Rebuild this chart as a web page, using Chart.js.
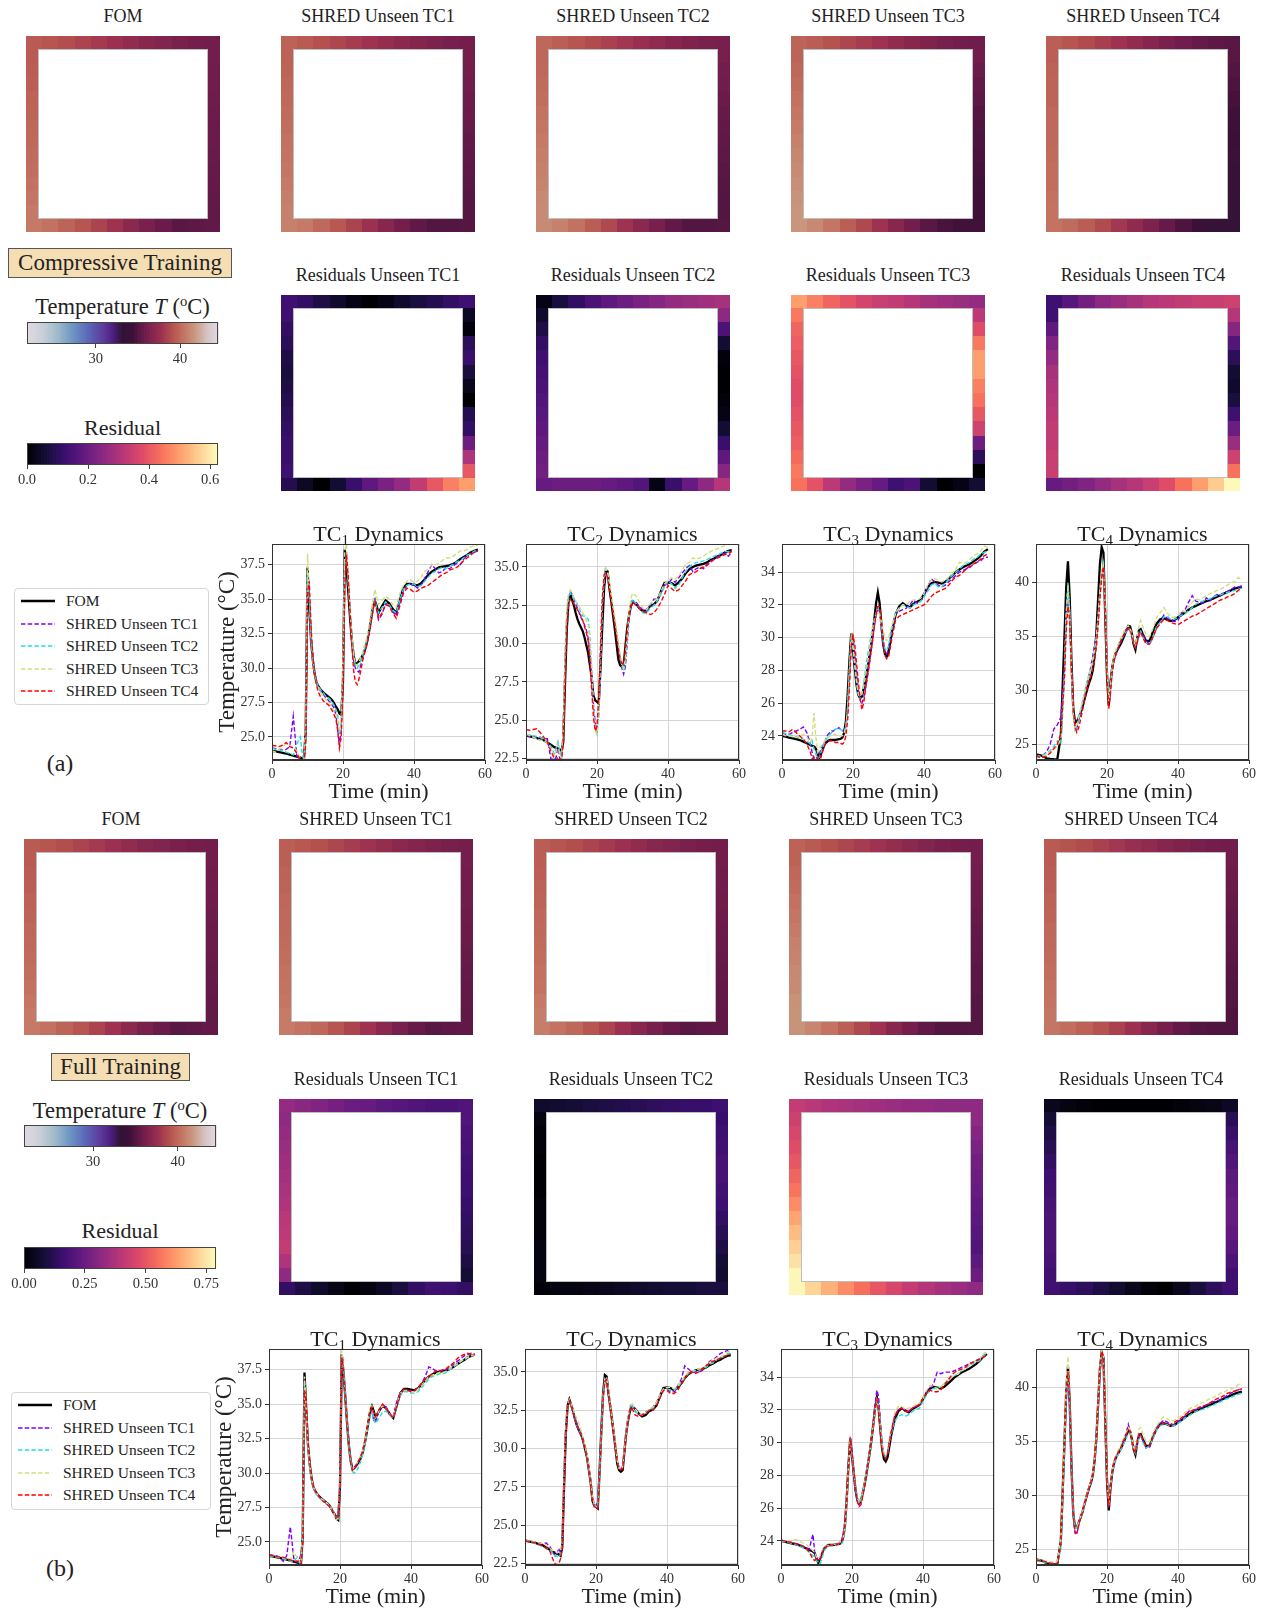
<!DOCTYPE html>
<html>
<head>
<meta charset="utf-8">
<script src="https://cdn.jsdelivr.net/npm/chart.js@4.4.1/dist/chart.umd.min.js"></script>
<style>
html,body{margin:0;padding:0;background:#fff;}
body{width:1271px;height:1612px;position:relative;overflow:hidden;font-family:"Liberation Serif","DejaVu Serif",serif;color:#222;}
canvas.abs{position:absolute;display:block;}
.txt{position:absolute;white-space:nowrap;line-height:1;transform:translate(-50%,-50%);}
.tag{position:absolute;background:#f5deb3;border:1px solid #555;box-sizing:border-box;display:flex;align-items:center;justify-content:center;font-size:23px;white-space:nowrap;}
.legend{position:absolute;border:1px solid #d6d6d6;border-radius:4px;background:#fff;box-sizing:border-box;}
.legend .lab{position:absolute;font-size:15.5px;line-height:1;transform:translateY(-50%);white-space:nowrap;color:#222;}
.legend svg{position:absolute;overflow:visible;}
sup{font-size:0.65em;vertical-align:0.55em;line-height:0;}
</style>
</head>
<body>
<script>
const FONT = '"Liberation Serif", "DejaVu Serif", serif';

// ---------- time grid (minutes) shared by every dynamics plot ----------
const TIME = [
  0,1,2,3,4,5,6,7,8,
  8.5,9,9.5,10,10.5,11,11.5,12,
  12.5,13,13.5,14,14.5,15,15.5,16,
  16.5,17,17.5,18,18.5,19,19.5,20,
  20.5,21,21.5,22,22.5,23,23.5,24,
  24.5,25,25.5,26,26.5,27,27.5,28,
  28.5,29,29.5,30,
  31,32,33,34,35,36,37,38,
  39,40,41,42,43,44,45,46,
  47,48,49,50,51,52,53,54,
  55,56,57,58];

const SERIES_LABELS = ['FOM','SHRED Unseen TC1','SHRED Unseen TC2','SHRED Unseen TC3','SHRED Unseen TC4'];
const SERIES_COLORS = ['#000000','#8000ff','#2adddd','#d4dd80','#ff0000'];

// ---------- full-order model thermocouple traces ----------
const FOM_TC1 = [
  24.0,23.95,23.9,23.85,23.8,23.72,23.65,23.58,23.5,
  23.45,23.4,25.5,37.3,34.5,32.0,30.6,29.6,
  29.0,28.7,28.5,28.35,28.22,28.1,28.0,27.9,
  27.78,27.65,27.45,27.2,27.0,26.7,26.6,29.0,
  38.6,37.3,35.5,33.6,32.0,30.9,30.3,30.35,
  30.5,30.7,30.9,31.2,31.6,32.2,32.9,33.7,
  34.5,34.85,34.5,34.0,
  34.5,34.9,34.7,34.3,34.0,34.9,35.8,36.1,
  36.1,36.05,36.0,36.15,36.45,36.75,37.0,37.15,
  37.3,37.35,37.4,37.45,37.55,37.7,37.9,38.05,
  38.2,38.4,38.5,38.6];
const FOM_TC2 = [
  24.0,23.95,23.9,23.85,23.75,23.7,23.55,23.4,23.25,
  23.2,23.15,23.1,23.0,23.6,27.5,31.0,32.8,
  33.2,32.85,32.5,32.0,31.6,31.3,31.05,30.8,
  30.4,29.9,29.4,28.6,27.8,26.6,26.3,26.2,
  26.1,28.5,31.2,33.6,34.8,34.7,33.6,32.8,
  31.9,31.0,30.0,29.0,28.6,28.5,28.6,29.8,
  31.0,31.8,32.4,32.75,
  32.6,32.3,32.1,32.2,32.45,32.55,32.8,33.4,
  33.95,34.0,33.95,33.8,34.0,34.25,34.6,34.85,
  35.0,35.1,35.15,35.2,35.3,35.45,35.55,35.7,
  35.8,35.95,36.05,36.1];
const FOM_TC3 = [
  24.0,23.95,23.9,23.85,23.8,23.75,23.65,23.55,23.45,
  23.4,23.35,23.25,22.95,22.65,22.9,23.2,23.5,
  23.6,23.7,23.75,23.75,23.75,23.76,23.78,23.8,
  23.82,23.9,24.2,24.9,26.5,28.6,30.25,29.2,
  28.1,27.1,26.5,26.3,26.4,26.9,27.4,28.0,
  28.7,29.4,30.2,31.1,32.1,32.75,32.1,30.8,
  29.6,29.0,28.85,29.1,
  30.4,31.4,31.9,32.1,31.95,31.85,32.05,32.17,
  32.3,32.65,33.05,33.3,33.4,33.35,33.3,33.4,
  33.6,33.8,34.0,34.15,34.3,34.4,34.5,34.65,
  34.8,35.0,35.25,35.4];
const FOM_TC4 = [
  24.05,24.0,23.9,23.7,23.65,23.62,23.6,25.8,34.8,
  39.5,42.0,38.6,32.6,28.3,27.0,27.1,27.45,
  27.9,28.35,29.0,29.6,30.2,30.75,31.2,31.9,
  33.2,35.3,38.5,41.7,43.3,42.8,37.0,31.4,
  28.6,30.8,32.2,33.0,33.5,33.8,34.1,34.4,
  34.8,35.2,35.6,36.0,35.95,35.3,34.3,33.8,
  34.85,35.6,35.7,35.3,
  34.6,34.6,35.5,36.2,36.6,36.7,36.6,36.45,
  36.55,36.8,37.0,37.25,37.5,37.7,37.85,38.0,
  38.15,38.3,38.4,38.55,38.7,38.85,39.0,39.15,
  39.3,39.45,39.55,39.65];

// ---------- SHRED reconstructions, compressive training ----------
const CT1_U1 = [
  24.2,24.15,24.1,24.05,24.1,24.3,26.5,23.6,23.2,
  23.2,23.3,25.0,36.8,35.2,32.3,30.7,29.6,
  29.0,28.6,28.4,28.3,28.1,27.9,27.8,27.6,
  27.5,27.3,27.1,26.6,25.6,24.4,25.5,30.0,
  37.0,38.4,36.3,34.0,32.0,30.5,30.0,29.8,
  29.7,30.2,30.7,31.2,31.6,32.2,32.9,33.8,
  34.6,35.0,34.3,33.5,
  33.9,34.7,34.6,34.1,33.8,34.8,35.6,36.0,
  36.1,36.0,35.8,36.0,36.5,37.0,37.5,37.2,
  36.9,37.0,37.3,37.2,37.4,37.6,37.5,37.9,
  38.2,38.3,38.4,38.5];
const CT1_U2 = [
  24.2,24.1,24.05,24.0,23.9,23.8,23.7,24.5,25.0,
  23.8,23.3,25.0,36.9,35.0,32.2,30.7,29.7,
  29.0,28.7,28.5,28.3,28.2,28.0,27.9,27.8,
  27.7,27.5,27.3,27.0,26.6,25.2,25.8,29.5,
  37.8,38.0,36.0,34.0,32.2,30.8,30.2,30.0,
  30.2,30.5,30.8,31.3,31.7,32.3,33.0,33.8,
  34.5,34.9,34.4,34.0,
  34.4,34.8,34.6,34.2,34.0,34.9,35.7,36.0,
  36.1,36.1,35.9,36.0,36.3,36.6,36.9,37.0,
  37.2,37.3,37.2,37.4,37.5,37.7,37.8,38.0,
  38.2,38.3,38.5,38.5];
const CT1_U3 = [
  24.0,23.9,24.1,24.3,24.5,24.4,24.2,24.0,23.4,
  23.3,23.4,26.0,38.3,35.4,32.2,30.5,29.5,
  28.9,28.6,28.3,28.1,27.9,27.8,27.6,27.5,
  27.3,27.1,26.9,26.6,26.2,25.6,26.5,31.0,
  38.6,39.0,36.4,34.2,32.3,30.9,30.3,30.2,
  30.4,30.8,31.1,31.6,32.0,32.6,33.3,34.2,
  35.0,35.7,35.2,34.6,
  34.9,35.2,35.0,34.6,34.4,35.4,36.0,36.3,
  36.4,36.2,36.3,36.6,37.0,37.2,37.5,37.5,
  37.6,37.8,38.0,38.0,38.1,38.3,38.5,38.5,
  38.6,38.8,38.9,38.9];
const CT1_U4 = [
  24.4,24.35,24.3,24.4,24.6,24.3,24.2,23.8,23.3,
  23.2,23.3,24.5,35.5,36.3,33.0,30.8,29.6,
  28.8,28.3,28.0,27.8,27.6,27.5,27.4,27.3,
  27.1,26.9,26.6,26.3,25.5,24.2,25.0,28.5,
  36.0,38.2,36.5,34.0,31.6,29.8,29.0,28.8,
  29.2,29.8,30.5,31.0,31.5,32.0,32.7,33.5,
  34.3,34.8,34.2,33.6,
  34.0,34.6,34.5,34.0,33.6,34.5,35.4,35.8,
  35.7,35.5,35.6,35.8,35.9,36.0,36.2,36.4,
  36.6,36.8,36.9,37.1,37.2,37.3,37.5,37.8,
  38.0,38.2,38.4,38.5];

const CT2_U1 = [
  24.0,23.95,23.9,23.85,23.9,23.8,23.8,22.5,22.4,
  22.6,23.4,22.5,22.4,24.5,29.0,32.0,33.0,
  33.4,33.2,32.9,32.6,32.3,32.0,31.7,31.5,
  31.2,30.9,30.4,29.5,28.0,26.0,24.8,24.4,
  25.5,29.0,32.3,34.0,34.7,34.5,33.8,33.0,
  32.3,31.5,30.6,29.8,29.0,28.4,28.0,28.5,
  30.0,31.5,32.5,32.8,
  32.7,32.4,32.2,32.1,32.5,32.9,32.9,33.3,
  33.8,33.9,34.2,34.0,34.3,34.6,34.9,35.1,
  34.7,34.9,35.0,34.9,35.2,35.4,35.5,35.7,
  35.8,35.9,35.7,36.0];
const CT2_U2 = [
  24.1,24.05,24.0,23.95,23.9,23.8,23.6,23.3,22.8,
  23.2,23.6,23.0,22.6,24.0,28.5,31.8,33.0,
  33.3,33.1,32.9,32.8,32.5,32.3,32.0,31.8,
  31.8,31.7,31.6,30.5,28.5,26.0,24.5,24.1,
  25.2,28.8,32.5,34.2,34.9,34.6,33.8,33.0,
  32.3,31.6,30.8,30.0,29.2,28.6,28.2,28.8,
  30.2,31.6,32.5,32.9,
  32.6,32.3,32.0,32.0,32.3,32.5,32.8,33.2,
  33.7,34.1,33.9,33.6,33.8,34.3,34.7,35.0,
  35.2,35.3,35.3,35.4,35.5,35.6,35.7,35.8,
  35.9,36.0,36.0,36.1];
const CT2_U3 = [
  24.1,24.0,23.9,23.8,23.7,23.7,23.5,23.1,22.7,
  23.0,23.4,22.8,22.6,24.5,29.5,32.5,33.3,
  33.5,33.3,33.0,32.8,32.6,32.4,32.2,32.0,
  31.8,31.5,31.2,30.2,28.2,25.8,24.3,24.1,
  25.5,29.5,32.8,34.3,34.9,34.7,34.0,33.2,
  32.5,31.8,31.0,30.1,29.3,28.8,28.4,29.2,
  30.6,32.0,32.9,33.3,
  33.1,32.7,32.3,32.2,32.6,32.8,32.9,33.4,
  33.9,34.1,34.3,34.2,34.4,34.8,35.2,35.3,
  35.6,35.5,35.6,35.7,35.9,36.0,36.1,36.2,
  36.3,36.4,36.5,36.6];
const CT2_U4 = [
  24.4,24.35,24.4,24.45,24.2,23.9,23.6,23.0,22.5,
  22.4,22.6,22.5,22.4,23.5,27.5,31.0,32.6,
  32.9,32.8,32.6,32.4,32.2,32.0,31.8,31.5,
  31.1,30.7,30.2,29.0,27.0,25.2,24.3,24.6,
  26.5,30.0,33.0,34.5,34.6,34.3,33.6,32.8,
  32.0,31.3,30.5,29.7,29.0,28.7,28.7,29.6,
  30.8,31.8,32.4,32.7,
  32.5,32.3,32.1,32.0,31.9,32.0,32.3,32.7,
  33.2,33.8,33.6,33.4,33.5,33.8,34.1,34.5,
  34.6,34.7,34.9,35.0,35.1,35.3,35.5,35.6,
  35.7,35.8,35.9,36.0];

const CT3_U1 = [
  24.2,24.1,24.1,24.2,24.3,24.4,24.55,24.2,23.5,
  23.0,22.6,22.7,22.6,22.9,23.2,23.4,23.6,
  23.9,24.1,24.2,24.3,24.3,24.4,24.4,24.5,
  24.4,24.3,24.4,24.6,25.5,27.5,29.6,30.0,
  29.0,27.8,26.8,26.2,26.0,26.3,26.9,27.5,
  28.2,29.0,29.8,30.7,31.3,31.7,31.6,30.5,
  29.5,29.1,29.0,29.3,
  30.5,31.5,31.6,31.7,31.8,32.0,32.3,32.1,
  32.2,32.5,33.0,33.6,33.4,33.2,33.1,33.2,
  33.4,33.6,33.8,34.0,34.1,34.2,34.3,34.5,
  34.6,34.7,34.9,34.9];
const CT3_U2 = [
  24.2,24.15,24.1,24.0,23.95,23.9,23.8,23.7,23.5,
  23.7,23.2,22.9,22.6,22.7,23.0,23.3,23.6,
  23.8,24.0,24.1,24.2,24.3,24.4,24.45,24.5,
  24.4,24.3,24.3,24.5,25.8,28.0,30.0,29.3,
  28.2,27.2,26.5,26.2,26.5,27.2,28.0,28.8,
  29.4,30.0,30.6,31.1,31.5,31.8,31.5,30.6,
  29.8,29.3,29.2,29.5,
  30.6,31.5,31.8,32.0,31.9,31.8,32.0,32.1,
  32.2,32.5,32.8,33.2,33.3,33.1,33.1,33.3,
  33.6,33.8,34.0,34.2,34.4,34.5,34.6,34.8,
  34.9,35.1,35.2,35.3];
const CT3_U3 = [
  24.1,24.0,24.0,23.95,23.9,24.0,24.1,23.9,23.6,
  24.0,25.4,24.0,23.0,23.2,23.4,23.5,23.7,
  23.8,23.9,24.0,24.0,24.1,24.1,24.0,24.0,
  24.0,24.0,24.2,24.5,25.8,28.2,30.1,29.5,
  28.4,27.4,26.6,26.4,26.6,27.0,27.6,28.3,
  29.0,29.7,30.4,31.0,31.4,31.6,31.4,31.0,
  30.4,30.0,29.8,30.0,
  30.8,31.5,31.8,32.0,32.0,32.2,32.3,32.3,
  32.4,32.7,33.2,33.5,33.6,33.5,33.4,33.5,
  33.7,33.9,34.2,34.6,34.5,34.6,34.8,35.0,
  35.1,35.3,35.6,35.5];
const CT3_U4 = [
  24.3,24.3,24.25,24.4,24.2,24.0,23.8,23.5,23.0,
  22.6,22.7,22.5,22.6,22.8,22.7,23.1,23.4,
  23.6,23.7,23.7,23.7,23.7,23.6,23.6,23.6,
  23.55,23.5,23.6,24.0,25.0,27.0,29.5,30.1,
  29.6,28.4,27.3,26.3,25.6,26.0,26.8,27.6,
  28.3,29.0,29.8,30.7,31.4,31.9,31.9,31.0,
  29.8,28.9,28.7,28.8,
  30.0,31.1,31.3,31.4,31.5,31.6,31.7,31.8,
  31.9,32.0,32.2,32.5,32.7,32.8,32.9,33.0,
  33.2,33.5,33.7,33.8,34.0,34.2,34.4,34.5,
  34.6,34.8,35.0,35.1];

const CT4_U1 = [
  23.9,23.9,24.0,24.3,25.0,26.4,26.8,27.5,32.0,
  36.5,38.5,37.0,32.0,28.0,26.3,26.5,27.2,
  27.8,28.5,29.3,30.1,30.9,31.5,32.3,33.2,
  34.3,34.9,36.5,39.0,40.5,41.2,38.0,32.0,
  29.2,30.5,32.0,32.8,33.3,33.8,34.2,34.6,
  35.0,35.4,35.7,35.8,35.6,35.0,34.4,34.0,
  34.5,35.1,35.5,35.3,
  34.6,34.3,35.0,35.8,36.4,37.0,36.7,36.5,
  36.4,36.5,37.2,37.5,38.2,38.8,38.3,38.2,
  38.1,38.6,38.3,38.7,38.9,38.8,39.1,39.2,
  39.4,39.6,39.6,39.7];
const CT4_U2 = [
  23.8,23.8,24.0,24.2,24.4,24.8,25.3,25.0,31.0,
  37.0,40.0,37.5,32.0,28.0,26.3,26.6,27.3,
  28.0,28.8,29.5,30.3,31.0,31.5,32.0,32.6,
  33.4,34.4,36.5,39.2,41.0,41.8,37.5,32.0,
  29.5,30.5,32.0,33.0,33.6,34.0,34.4,34.7,
  35.0,35.3,35.5,35.6,35.5,35.0,34.4,34.0,
  34.4,35.2,35.5,35.0,
  34.4,34.2,35.0,36.0,36.3,36.8,36.9,36.6,
  36.6,36.8,37.0,37.1,37.4,37.7,38.0,38.2,
  38.3,38.4,38.5,38.7,38.8,38.9,39.0,39.1,
  39.2,39.3,39.4,39.5];
const CT4_U3 = [
  24.0,23.9,23.9,24.1,24.3,24.5,24.8,25.5,31.5,
  37.0,39.8,37.0,31.5,27.8,26.4,26.8,27.5,
  28.2,28.9,29.5,30.2,31.0,31.6,32.2,32.9,
  33.8,35.0,37.0,39.4,41.0,41.6,37.8,32.0,
  29.0,30.6,32.3,33.2,33.8,34.2,34.6,35.0,
  35.3,35.6,35.9,36.0,35.8,35.3,34.6,34.2,
  35.0,36.0,36.5,36.0,
  35.2,35.0,35.8,36.8,37.2,37.7,37.2,36.8,
  36.8,37.0,37.4,37.3,37.8,38.2,38.5,38.4,
  38.6,38.8,39.0,39.1,39.3,39.4,39.6,39.8,
  40.0,40.1,40.5,40.3];
const CT4_U4 = [
  24.0,23.8,23.8,23.9,24.2,24.6,25.0,26.0,31.0,
  35.5,37.8,36.5,32.0,28.5,26.6,26.1,26.5,
  27.2,28.0,28.8,29.6,30.3,30.9,31.4,32.0,
  32.8,34.0,36.0,38.5,40.5,41.5,37.5,31.0,
  28.3,29.8,31.8,32.8,33.4,33.8,34.3,34.7,
  35.0,35.3,35.6,35.7,35.6,35.2,34.5,34.0,
  34.4,35.1,35.4,35.0,
  34.3,34.3,35.0,35.8,36.2,36.6,36.5,36.3,
  36.2,36.1,36.3,36.5,36.7,36.9,37.0,37.2,
  37.4,37.6,37.8,38.0,38.2,38.4,38.5,38.7,
  38.8,39.0,39.3,39.5];

// ---------- SHRED reconstructions, full training ----------
const FT1_U1 = [
  24.1,24.05,24.0,23.9,23.6,24.0,26.1,23.8,23.5,
  23.7,24.1,25.0,36.8,34.6,32.0,30.6,29.6,
  29.0,28.7,28.5,28.35,28.2,28.1,27.95,27.85,
  27.7,27.6,27.4,27.2,27.0,26.9,27.0,29.5,
  38.3,37.5,35.5,33.6,32.0,30.9,30.3,30.4,
  30.6,30.8,31.0,31.3,31.7,32.3,33.0,33.8,
  34.5,34.5,33.8,33.7,
  34.5,34.9,34.8,34.2,34.1,35.2,35.8,36.0,
  36.0,36.0,36.0,36.2,36.5,37.0,37.7,37.6,
  37.4,37.4,37.4,37.5,37.7,37.9,38.1,38.3,
  38.5,38.6,38.7,38.6];
const FT1_U2 = [
  24.0,23.95,23.9,23.85,23.8,23.7,23.6,23.6,23.9,
  23.5,23.4,25.3,36.5,34.3,31.8,30.4,29.5,
  28.9,28.6,28.4,28.25,28.1,28.0,27.9,27.85,
  27.7,27.6,27.5,27.3,27.0,26.8,26.7,29.0,
  38.0,37.6,35.6,33.7,32.0,30.8,30.1,30.0,
  30.1,30.3,30.6,31.0,31.5,32.0,32.7,33.5,
  34.2,34.4,33.9,33.6,
  34.0,34.4,34.5,34.2,34.0,34.8,35.6,35.9,
  35.9,35.8,35.8,35.9,36.2,36.5,36.8,37.0,
  37.1,37.2,37.2,37.3,37.5,37.7,37.9,38.1,
  38.2,38.4,38.5,38.6];
const FT1_U3 = [
  24.1,24.0,23.95,23.9,23.85,23.8,23.7,24.3,23.8,
  23.6,23.5,26.0,37.0,34.6,32.0,30.5,29.6,
  29.0,28.7,28.5,28.3,28.2,28.1,28.0,27.9,
  27.8,27.6,27.4,27.2,26.9,26.6,26.8,30.0,
  38.9,37.6,35.5,33.6,32.0,30.9,30.3,30.4,
  30.6,30.8,31.1,31.4,31.8,32.4,33.1,34.0,
  34.8,34.9,34.3,34.0,
  34.5,34.9,34.7,34.3,34.1,35.0,35.8,36.0,
  36.0,35.9,35.9,36.1,36.4,36.7,37.0,37.1,
  37.2,37.3,37.3,37.4,37.6,37.8,37.9,38.1,
  38.3,38.4,38.5,38.6];
const FT1_U4 = [
  24.1,24.0,23.95,23.9,23.9,23.8,23.7,23.6,23.6,
  23.6,23.4,24.8,36.0,35.0,32.2,30.7,29.7,
  29.0,28.7,28.5,28.3,28.2,28.0,27.9,27.85,
  27.7,27.6,27.4,27.2,27.0,26.8,26.8,29.0,
  38.4,37.4,35.5,33.6,32.0,30.8,30.2,30.3,
  30.5,30.8,31.0,31.3,31.7,32.3,33.0,33.8,
  34.5,34.8,34.4,34.1,
  34.6,35.0,34.7,34.3,34.0,34.9,35.8,36.1,
  36.0,35.9,36.0,36.2,36.5,36.8,37.0,37.2,
  37.4,37.4,37.5,37.6,37.8,38.0,38.3,38.5,
  38.6,38.7,38.6,38.6];

const FT2_U1 = [
  24.05,24.0,23.95,23.9,23.85,23.8,23.85,23.6,23.2,
  23.0,23.1,23.5,23.2,23.8,27.6,31.0,32.8,
  33.2,32.9,32.5,32.1,31.7,31.4,31.1,30.9,
  30.5,30.1,29.6,28.9,27.9,26.8,26.4,26.3,
  26.5,28.6,31.2,33.5,34.5,34.6,33.7,32.8,
  31.9,31.0,30.1,29.2,28.8,28.7,28.8,29.8,
  30.8,31.8,32.5,32.9,
  32.6,32.2,32.2,32.4,32.5,32.7,33.0,33.5,
  33.9,33.9,33.7,33.7,34.1,34.5,35.4,35.2,
  35.0,35.0,35.0,35.1,35.4,35.7,35.8,36.0,
  36.2,36.3,36.4,36.2];
const FT2_U2 = [
  24.0,23.95,23.9,23.8,23.7,23.6,23.5,23.4,23.1,
  23.0,23.0,22.9,23.1,23.8,27.8,31.2,32.9,
  33.1,32.8,32.4,32.0,31.6,31.3,31.0,30.8,
  30.4,29.9,29.4,28.6,27.7,26.6,26.3,26.3,
  26.3,28.3,31.0,33.4,34.5,34.6,33.7,32.8,
  31.9,31.0,30.1,29.2,28.8,28.8,28.9,29.9,
  30.9,31.8,32.5,32.8,
  32.4,32.3,32.2,32.4,32.5,32.6,32.9,33.4,
  33.8,33.9,33.8,33.8,34.0,34.3,34.6,34.9,
  35.0,35.1,35.1,35.2,35.3,35.5,35.6,35.8,
  35.9,36.0,36.2,36.2];
const FT2_U3 = [
  24.05,24.0,23.95,23.9,23.85,23.8,23.7,23.5,23.3,
  23.3,23.2,23.3,23.4,24.0,28.0,31.3,32.9,
  33.2,32.9,32.6,32.3,32.0,31.8,31.4,31.0,
  30.6,30.1,29.6,28.8,27.9,26.8,26.4,26.2,
  26.2,28.4,31.1,33.5,34.6,34.6,33.8,32.9,
  32.0,31.1,30.2,29.2,28.7,28.7,28.8,29.9,
  31.0,32.0,32.8,33.0,
  32.6,32.3,32.2,32.3,32.6,32.7,33.0,33.5,
  33.9,34.0,34.0,33.9,34.1,34.4,34.7,35.0,
  35.1,35.1,35.2,35.3,35.4,35.6,35.8,35.9,
  36.0,36.1,36.3,36.3];
const FT2_U4 = [
  24.0,23.95,23.9,23.85,23.75,23.65,23.5,23.3,22.7,
  22.5,22.4,22.5,22.8,23.6,27.5,30.9,32.7,
  33.1,32.8,32.4,32.0,31.6,31.3,31.0,30.8,
  30.4,29.9,29.4,28.6,27.7,26.6,26.2,26.2,
  26.1,28.2,30.9,33.3,34.4,34.5,33.6,32.7,
  31.8,30.9,30.0,29.1,28.7,28.6,28.7,29.8,
  30.8,31.8,32.5,32.7,
  32.2,32.1,32.2,32.3,32.5,32.5,32.8,33.3,
  33.8,33.8,33.6,33.6,33.8,34.2,34.6,34.9,
  35.0,34.9,35.0,35.2,35.4,35.6,35.7,35.8,
  35.9,36.0,36.1,36.1];

const FT3_U1 = [
  24.05,24.0,23.95,23.9,23.85,23.8,23.7,23.6,23.5,
  24.0,24.4,23.3,23.0,22.8,22.9,23.2,23.5,
  23.6,23.7,23.7,23.75,23.75,23.8,23.8,23.85,
  23.9,24.0,24.4,25.2,26.8,28.8,30.3,29.3,
  28.1,27.0,26.4,26.2,26.4,26.9,27.4,28.0,
  28.7,29.5,30.3,31.2,32.3,33.2,32.8,31.2,
  29.8,29.2,29.1,29.4,
  30.6,31.6,32.0,32.1,32.0,31.9,32.1,32.2,
  32.3,32.7,33.1,33.3,33.6,34.3,34.2,34.3,
  34.3,34.3,34.4,34.5,34.6,34.7,34.8,34.9,
  35.0,35.1,35.3,35.4];
const FT3_U2 = [
  24.0,23.95,23.9,23.85,23.8,23.7,23.6,23.5,23.3,
  23.2,23.1,23.0,22.8,22.7,22.6,22.9,23.3,
  23.5,23.6,23.7,23.7,23.75,23.75,23.75,23.8,
  23.8,23.8,24.0,24.6,26.3,28.4,30.0,29.3,
  28.2,27.2,26.6,26.4,26.6,27.0,27.5,28.1,
  28.8,29.5,30.3,31.2,32.0,32.6,32.2,31.0,
  29.9,29.3,29.1,29.3,
  30.5,31.3,31.6,31.7,31.6,31.7,31.9,32.0,
  32.1,32.5,32.9,33.2,33.3,33.3,33.4,33.6,
  33.8,34.0,34.1,34.2,34.4,34.5,34.7,34.8,
  34.9,35.0,35.3,35.4];
const FT3_U3 = [
  24.05,24.0,23.95,24.0,24.1,24.0,23.9,23.8,23.6,
  23.5,23.4,23.3,23.0,22.9,23.1,23.4,23.6,
  23.7,23.7,23.75,23.8,23.8,23.8,23.8,23.85,
  23.9,24.0,24.2,24.9,26.5,28.6,30.2,29.3,
  28.2,27.2,26.6,26.3,26.4,26.9,27.4,28.0,
  28.7,29.4,30.2,31.1,32.0,32.6,32.1,30.9,
  29.8,29.3,29.2,29.5,
  30.8,31.8,32.2,32.2,32.0,32.1,32.2,32.3,
  32.4,32.7,33.2,33.5,33.4,33.3,33.4,33.6,
  33.8,34.0,34.1,34.2,34.4,34.5,34.7,34.9,
  35.0,35.1,35.4,35.6];
const FT3_U4 = [
  24.05,24.0,23.95,23.9,23.85,23.75,23.7,23.6,23.3,
  23.1,22.9,22.8,22.9,22.8,22.9,23.2,23.5,
  23.6,23.7,23.7,23.75,23.75,23.8,23.8,23.8,
  23.85,23.9,24.2,24.9,26.5,28.5,30.1,29.4,
  28.3,27.2,26.4,26.1,26.2,26.7,27.3,28.0,
  28.7,29.5,30.3,31.2,32.1,32.6,32.0,30.6,
  29.5,29.1,29.0,29.3,
  30.6,31.6,32.0,32.1,31.9,31.9,32.1,32.2,
  32.3,32.7,33.0,33.2,33.1,33.1,33.2,33.5,
  33.8,34.1,34.3,34.4,34.5,34.6,34.8,34.9,
  35.0,35.1,35.2,35.35];

const FT4_U1 = [
  24.0,23.95,23.9,23.8,23.7,23.65,23.7,25.5,34.0,
  39.0,41.0,38.5,32.5,28.3,26.5,26.4,27.2,
  27.9,28.4,29.0,29.6,30.2,30.8,31.3,32.0,
  33.3,35.5,38.6,41.6,43.2,42.6,37.0,31.5,
  28.9,30.9,32.3,33.2,33.6,33.8,34.1,34.5,
  35.0,35.4,35.9,36.6,36.0,35.0,34.2,34.0,
  35.0,35.7,35.6,35.2,
  34.4,34.5,35.5,36.3,36.7,37.0,36.8,36.6,
  36.6,36.8,37.1,37.4,37.8,37.9,38.0,38.1,
  38.2,38.4,38.6,38.7,38.8,38.9,39.1,39.3,
  39.5,39.7,39.8,39.9];
const FT4_U2 = [
  23.9,23.85,23.8,23.75,23.7,23.75,23.8,25.0,33.5,
  38.8,41.5,38.5,32.5,28.5,27.0,27.0,27.4,
  27.9,28.3,28.9,29.6,30.2,30.8,31.2,31.9,
  33.1,35.2,38.4,41.5,43.0,42.6,37.2,31.8,
  29.8,30.9,32.1,32.9,33.4,33.7,34.0,34.3,
  34.6,35.0,35.4,35.8,35.8,35.1,34.2,33.9,
  34.6,35.4,35.5,35.0,
  34.4,34.6,35.3,36.1,36.5,36.6,36.6,36.4,
  36.5,36.7,36.9,37.2,37.4,37.6,37.8,37.9,
  38.0,38.1,38.3,38.4,38.6,38.7,38.9,39.0,
  39.1,39.3,39.4,39.5];
const FT4_U3 = [
  24.0,24.0,23.95,23.9,23.85,23.8,23.9,26.0,35.5,
  40.5,42.9,39.0,32.8,28.3,26.9,27.1,27.5,
  28.0,28.5,29.1,29.7,30.3,30.9,31.4,32.1,
  33.4,35.5,38.8,42.0,43.4,42.9,37.3,31.7,
  29.0,31.0,32.5,33.3,33.7,34.1,34.4,34.8,
  35.2,35.5,35.9,36.3,36.2,35.5,34.5,34.1,
  35.2,36.2,36.3,35.8,
  35.0,35.0,35.8,36.5,37.0,37.3,37.1,36.9,
  37.0,37.2,37.4,37.7,38.0,38.2,38.3,38.5,
  38.6,38.8,39.0,39.1,39.3,39.5,39.6,39.8,
  39.9,40.0,40.3,40.5];
const FT4_U4 = [
  24.0,23.95,23.9,23.8,23.7,23.65,23.6,25.5,34.8,
  39.8,41.5,39.0,33.0,28.3,26.6,26.5,27.2,
  27.9,28.4,29.0,29.6,30.2,30.8,31.3,32.0,
  33.3,35.4,38.6,41.8,43.4,42.8,37.3,31.5,
  29.0,31.0,32.3,33.1,33.6,33.9,34.2,34.5,
  34.9,35.3,35.7,36.1,36.0,35.2,34.3,34.0,
  35.0,35.7,35.7,35.2,
  34.6,34.6,35.5,36.2,36.6,36.7,36.6,36.6,
  36.8,37.0,37.2,37.5,37.7,37.9,38.0,38.2,
  38.3,38.4,38.6,38.8,39.0,39.1,39.3,39.5,
  39.6,39.7,39.8,39.9];

// ---------- axis ranges and tick labels ----------
const Y_RANGE_TC1 = [23.33, 39.0], Y_TICKS_TC1 = [25.0, 27.5, 30.0, 32.5, 35.0, 37.5];
const Y_RANGE_TC2 = [22.41, 36.5], Y_TICKS_TC2 = [22.5, 25.0, 27.5, 30.0, 32.5, 35.0];
const Y_RANGE_TC3 = [22.53, 35.71], Y_TICKS_TC3 = [24, 26, 28, 30, 32, 34];
const Y_RANGE_TC4 = [23.54, 43.6], Y_TICKS_TC4 = [25, 30, 35, 40];
const X_TICKS = [0, 20, 40, 60];

// ---------- boundary temperature fields (°C), 12 cells per edge ----------
// edges: top (left→right), right (top→bottom), bottom (left→right), left (top→bottom)
const FIELD_FOM = {
  top:[39.4,39.2,38.9,38.5,38.1,37.7,37.3,36.9,36.6,36.3,36.1,36.0],
  right:[36.0,35.95,35.9,35.85,35.8,35.75,35.7,35.65,35.6,35.55,35.5,35.45],
  bottom:[40.6,40.3,39.8,39.2,38.5,37.8,37.0,36.3,35.7,35.2,35.3,35.5],
  left:[39.4,39.5,39.6,39.7,39.8,39.9,40.0,40.1,40.2,40.3,40.45,40.6]};
const FIELD_CT_U1 = {
  top:[39.7,39.4,39.0,38.6,38.2,37.8,37.4,37.0,36.7,36.4,36.2,36.1],
  right:[36.1,36.0,35.9,35.8,35.7,35.6,35.5,35.4,35.3,35.2,35.1,35.1],
  bottom:[40.9,40.6,40.0,39.3,38.5,37.7,36.9,36.1,35.4,35.0,35.0,35.1],
  left:[39.7,39.8,39.9,40.0,40.1,40.2,40.3,40.4,40.5,40.6,40.8,40.9]};
const FIELD_CT_U2 = {
  top:[39.9,39.6,39.2,38.8,38.4,38.0,37.6,37.2,36.8,36.5,36.3,36.2],
  right:[36.2,36.0,35.9,35.7,35.6,35.5,35.4,35.3,35.2,35.1,35.0,35.0],
  bottom:[41.3,40.9,40.3,39.5,38.7,37.8,37.0,36.2,35.5,35.0,35.0,35.1],
  left:[39.9,40.0,40.1,40.2,40.4,40.5,40.6,40.8,40.9,41.0,41.2,41.3]};
const FIELD_CT_U3 = {
  top:[39.8,39.5,39.1,38.6,38.2,37.8,37.3,36.9,36.5,36.2,36.0,35.9],
  right:[35.9,35.7,35.5,35.3,35.1,34.9,34.8,34.7,34.6,34.5,34.4,34.4],
  bottom:[41.7,41.2,40.5,39.6,38.7,37.8,36.9,36.0,35.2,34.7,34.5,34.5],
  left:[39.8,39.9,40.1,40.3,40.5,40.7,40.9,41.1,41.3,41.4,41.6,41.7]};
const FIELD_CT_U4 = {
  top:[39.6,39.2,38.8,38.3,37.8,37.3,36.8,36.3,35.9,35.6,35.3,35.2],
  right:[35.2,35.0,34.8,34.6,34.4,34.3,34.2,34.1,34.0,33.9,33.8,33.7],
  bottom:[40.4,40.1,39.5,38.8,38.0,37.2,36.4,35.6,34.8,34.2,33.8,33.7],
  left:[39.6,39.7,39.8,39.8,39.9,40.0,40.0,40.1,40.2,40.2,40.3,40.4]};
const FIELD_FT_U1 = {
  top:[39.6,39.3,39.0,38.6,38.2,37.8,37.4,37.0,36.7,36.4,36.2,36.1],
  right:[36.1,36.0,35.95,35.9,35.8,35.75,35.7,35.6,35.55,35.5,35.45,35.4],
  bottom:[40.7,40.4,39.9,39.2,38.5,37.8,37.0,36.2,35.6,35.2,35.3,35.4],
  left:[39.6,39.7,39.8,39.9,40.0,40.0,40.1,40.2,40.3,40.4,40.5,40.7]};
const FIELD_FT_U2 = {
  top:[39.5,39.2,38.9,38.5,38.1,37.7,37.3,36.9,36.6,36.3,36.1,36.0],
  right:[36.0,35.95,35.9,35.85,35.8,35.7,35.65,35.6,35.55,35.5,35.45,35.4],
  bottom:[40.8,40.4,39.9,39.2,38.5,37.7,36.9,36.2,35.6,35.2,35.3,35.4],
  left:[39.5,39.6,39.7,39.8,39.9,40.0,40.1,40.2,40.3,40.4,40.6,40.8]};
const FIELD_FT_U3 = {
  top:[39.7,39.4,39.0,38.6,38.2,37.8,37.4,37.0,36.6,36.3,36.1,36.0],
  right:[36.0,35.9,35.8,35.7,35.6,35.5,35.4,35.3,35.2,35.2,35.1,35.1],
  bottom:[41.6,41.1,40.4,39.6,38.7,37.8,36.9,36.1,35.4,35.0,35.0,35.1],
  left:[39.7,39.9,40.1,40.3,40.5,40.7,40.9,41.0,41.2,41.3,41.5,41.6]};
const FIELD_FT_U4 = {
  top:[39.4,39.1,38.8,38.4,38.0,37.6,37.2,36.8,36.5,36.2,36.0,35.9],
  right:[35.9,35.8,35.7,35.6,35.5,35.4,35.3,35.2,35.1,35.0,35.0,34.9],
  bottom:[40.5,40.2,39.7,39.1,38.4,37.7,36.9,36.1,35.5,35.0,34.9,34.9],
  left:[39.4,39.5,39.6,39.7,39.8,39.9,40.0,40.1,40.2,40.3,40.4,40.5]};

// ---------- boundary residuals ----------
const RESID_CT_U1 = {
  top:[0.13,0.11,0.08,0.05,0.02,0.0,0.02,0.05,0.07,0.09,0.11,0.13],
  right:[0.04,0.01,0.1,0.12,0.07,0.03,0.0,0.09,0.11,0.2,0.3,0.4],
  bottom:[0.09,0.04,0.0,0.06,0.12,0.18,0.22,0.26,0.33,0.4,0.46,0.5],
  left:[0.13,0.11,0.1,0.08,0.07,0.08,0.09,0.1,0.11,0.12,0.12,0.13]};
const RESID_CT_U2 = {
  top:[0.02,0.07,0.11,0.15,0.18,0.2,0.22,0.24,0.26,0.27,0.28,0.29],
  right:[0.25,0.15,0.06,0.01,0.0,0.0,0.01,0.02,0.06,0.12,0.18,0.24],
  bottom:[0.19,0.2,0.2,0.2,0.19,0.18,0.16,0.02,0.12,0.19,0.25,0.31],
  left:[0.05,0.08,0.11,0.13,0.14,0.15,0.16,0.17,0.18,0.19,0.2,0.21]};
const RESID_CT_U3 = {
  top:[0.5,0.46,0.42,0.39,0.36,0.34,0.33,0.31,0.29,0.28,0.27,0.26],
  right:[0.32,0.38,0.45,0.5,0.5,0.46,0.44,0.4,0.35,0.2,0.1,0.0],
  bottom:[0.44,0.39,0.32,0.26,0.22,0.19,0.13,0.15,0.06,0.0,0.02,0.06],
  left:[0.45,0.42,0.41,0.4,0.39,0.38,0.38,0.39,0.4,0.41,0.43,0.45]};
const RESID_CT_U4 = {
  top:[0.13,0.17,0.21,0.25,0.27,0.29,0.31,0.32,0.33,0.34,0.34,0.35],
  right:[0.31,0.24,0.16,0.1,0.06,0.05,0.07,0.13,0.2,0.27,0.35,0.44],
  bottom:[0.19,0.21,0.23,0.26,0.29,0.31,0.34,0.38,0.44,0.5,0.56,0.62],
  left:[0.13,0.18,0.23,0.26,0.29,0.3,0.31,0.32,0.33,0.33,0.34,0.34]};
const RESID_FT_U1 = {
  top:[0.33,0.31,0.29,0.27,0.25,0.24,0.22,0.21,0.2,0.19,0.19,0.2],
  right:[0.2,0.19,0.18,0.17,0.16,0.16,0.15,0.14,0.13,0.12,0.1,0.08],
  bottom:[0.14,0.1,0.06,0.03,0.0,0.02,0.05,0.09,0.14,0.17,0.16,0.14],
  left:[0.32,0.33,0.34,0.35,0.36,0.37,0.38,0.4,0.41,0.42,0.38,0.32]};
const RESID_FT_U2 = {
  top:[0.06,0.07,0.08,0.09,0.1,0.11,0.12,0.13,0.14,0.15,0.15,0.16],
  right:[0.15,0.16,0.17,0.18,0.18,0.17,0.16,0.14,0.12,0.1,0.08,0.07],
  bottom:[0.01,0.02,0.02,0.03,0.04,0.05,0.06,0.07,0.08,0.08,0.09,0.09],
  left:[0.02,0.01,0.01,0.0,0.0,0.0,0.01,0.01,0.01,0.02,0.02,0.02]};
const RESID_FT_U3 = {
  top:[0.42,0.4,0.38,0.37,0.36,0.35,0.34,0.33,0.33,0.32,0.32,0.32],
  right:[0.32,0.3,0.28,0.26,0.25,0.24,0.23,0.22,0.21,0.2,0.22,0.25],
  bottom:[0.78,0.72,0.66,0.6,0.55,0.5,0.46,0.42,0.39,0.36,0.34,0.32],
  left:[0.44,0.46,0.48,0.5,0.53,0.56,0.6,0.64,0.68,0.71,0.74,0.78]};
const RESID_FT_U4 = {
  top:[0.04,0.02,0.01,0.0,0.0,0.0,0.0,0.0,0.01,0.02,0.03,0.05],
  right:[0.12,0.15,0.18,0.2,0.22,0.23,0.24,0.24,0.23,0.21,0.19,0.16],
  bottom:[0.17,0.15,0.13,0.1,0.07,0.04,0.01,0.0,0.04,0.09,0.13,0.16],
  left:[0.08,0.1,0.12,0.14,0.16,0.17,0.18,0.19,0.19,0.19,0.18,0.17]};

// ---------- colour scale limits and colorbar ticks ----------
const TEMP_LIMITS = [21.85, 44.5], TEMP_TICKS = [30, 40];
const RESID_LIMITS_CT = [0, 0.626], RESID_TICKS_CT = [0.0, 0.2, 0.4, 0.6];
const RESID_LIMITS_FT = [0, 0.79], RESID_TICKS_FT = [0.0, 0.25, 0.5, 0.75];

// ---------- colormaps ----------
const TWILIGHT = [[0.00,'#e2d9e2'],[0.08,'#c9d0d8'],[0.16,'#9fbacb'],[0.24,'#6d95c3'],[0.32,'#5b67b8'],
  [0.40,'#5c3a9c'],[0.45,'#4e1f80'],[0.50,'#2f1436'],[0.55,'#3c1038'],[0.62,'#701c4c'],[0.70,'#9c3050'],
  [0.76,'#b5524e'],[0.82,'#c47462'],[0.88,'#c9987f'],[0.94,'#d4c2c2'],[1.00,'#e2d9e2']];
const MAGMA = [[0.0,'#000004'],[0.1,'#140e36'],[0.2,'#3b0f70'],[0.3,'#641a80'],[0.4,'#8c2981'],[0.5,'#b73779'],
  [0.6,'#de4968'],[0.7,'#f7705c'],[0.8,'#fe9f6d'],[0.9,'#fecf92'],[1.0,'#fcfdbf']];

function hexRgb(h){ return [parseInt(h.slice(1,3),16),parseInt(h.slice(3,5),16),parseInt(h.slice(5,7),16)]; }
function makeCmap(stops){
  const s = stops.map(([t,c]) => [t, hexRgb(c)]);
  return t => {
    t = Math.max(0, Math.min(1, t));
    for (let i = 1; i < s.length; i++) {
      if (t <= s[i][0]) {
        const [t0,c0] = s[i-1], [t1,c1] = s[i];
        const f = (t - t0) / (t1 - t0);
        const c = c0.map((v,k) => Math.round(v + (c1[k]-v)*f));
        return `rgb(${c[0]},${c[1]},${c[2]})`;
      }
    }
    const c = s[s.length-1][1]; return `rgb(${c[0]},${c[1]},${c[2]})`;
  };
}
const twilight = makeCmap(TWILIGHT), magma = makeCmap(MAGMA);

Chart.defaults.font.family = FONT;
Chart.defaults.color = '#333';
Chart.defaults.animation = false;

// ---------- DOM helpers ----------
function makeCanvas(left, top, w, h){
  const c = document.createElement('canvas');
  c.className = 'abs';
  left = Math.round(left); top = Math.round(top); w = Math.round(w); h = Math.round(h);
  c.width = w; c.height = h;
  c.style.left = left + 'px'; c.style.top = top + 'px';
  c.style.width = w + 'px'; c.style.height = h + 'px';
  document.body.appendChild(c);
  return c;
}
function addText(html, x, y, size, extra){
  const d = document.createElement('div');
  d.className = 'txt'; d.innerHTML = html;
  d.style.left = x + 'px'; d.style.top = y + 'px'; d.style.fontSize = size + 'px';
  if (extra) Object.assign(d.style, extra);
  document.body.appendChild(d);
  return d;
}

// ---------- plugins ----------
const frameCells = {
  id: 'frameCells',
  beforeDatasetsDraw(chart, args, o){
    const {x, y} = chart.scales, ctx = chart.ctx;
    const f = o.field, b = o.border, lim = o.limits;
    const norm = v => (v - lim[0]) / (lim[1] - lim[0]);
    const px = v => Math.round(x.getPixelForValue(v)), py = v => Math.round(y.getPixelForValue(v));
    const cell = (x0, x1, y0, y1, v) => {
      const X0 = px(x0), X1 = px(x1), Y0 = py(y1), Y1 = py(y0);
      ctx.fillStyle = o.cmap(norm(v));
      ctx.fillRect(X0, Y0, X1 - X0, Y1 - Y0);
    };
    ctx.save();
    const n = f.top.length;
    f.top.forEach((v,i) => cell(i/n, (i+1)/n, 1-b, 1, v));
    f.bottom.forEach((v,i) => cell(i/n, (i+1)/n, 0, b, v));
    const m = f.left.length, h = (1 - 2*b) / m;
    f.left.forEach((v,i) => cell(0, b, 1-b-(i+1)*h, 1-b-i*h, v));
    f.right.forEach((v,i) => cell(1-b, 1, 1-b-(i+1)*h, 1-b-i*h, v));
    // faint outline of the inner (empty) region, on its first white pixels
    const L = px(b), R = px(1-b), T = py(1-b), B = py(b);
    ctx.strokeStyle = 'rgba(70,70,70,0.35)'; ctx.lineWidth = 1;
    ctx.strokeRect(L + 0.5, T + 0.5, R - L - 1, B - T - 1);
    ctx.restore();
  }
};

const colorbarFill = {
  id: 'colorbarFill',
  beforeDatasetsDraw(chart, args, o){
    const x = chart.scales.x, a = chart.chartArea, ctx = chart.ctx;
    const [lo, hi] = o.limits, steps = 256;
    ctx.save();
    for (let i = 0; i < steps; i++){
      const v0 = lo + (hi-lo)*i/steps, v1 = lo + (hi-lo)*(i+1)/steps;
      const X0 = x.getPixelForValue(v0), X1 = x.getPixelForValue(v1);
      ctx.fillStyle = o.cmap((i + 0.5) / steps);
      ctx.fillRect(X0, a.top, X1 - X0 + 0.7, a.bottom - a.top);
    }
    ctx.strokeStyle = '#444'; ctx.lineWidth = 1;
    ctx.strokeRect(Math.round(a.left)+0.5, Math.round(a.top)+0.5, Math.round(a.right-a.left)-1, Math.round(a.bottom-a.top)-1);
    ctx.restore();
  }
};

const plotBox = {
  id: 'plotBox',
  afterDraw(chart){
    const a = chart.chartArea, ctx = chart.ctx;
    ctx.save(); ctx.strokeStyle = '#333'; ctx.lineWidth = 1;
    ctx.strokeRect(Math.round(a.left)+0.5, Math.round(a.top)+0.5, Math.round(a.right-a.left)-1, Math.round(a.bottom-a.top)-1);
    ctx.restore();
  }
};

const dynTitle = {
  id: 'dynTitle',
  afterDraw(chart, args, o){
    const ctx = chart.ctx, a = chart.chartArea;
    const big = `22px ${FONT}`, small = `15px ${FONT}`;
    ctx.save(); ctx.fillStyle = '#222'; ctx.textBaseline = 'alphabetic'; ctx.textAlign = 'left';
    ctx.font = big; const w1 = ctx.measureText('TC').width, w3 = ctx.measureText(' Dynamics').width;
    ctx.font = small; const w2 = ctx.measureText(o.num).width;
    let x = (a.left + a.right)/2 - (w1 + w2 + w3)/2; const y = a.top - 3;
    ctx.font = big; ctx.fillText('TC', x, y); x += w1;
    ctx.font = small; ctx.fillText(o.num, x, y + 4); x += w2;
    ctx.font = big; ctx.fillText(' Dynamics', x, y);
    ctx.restore();
  }
};

// ---------- chart builders ----------
function fieldChart(left, top, w, h, field, cmap, limits){
  const c = makeCanvas(left, top, w, h);
  return new Chart(c, {
    type: 'scatter',
    data: { datasets: [] },
    options: {
      responsive: false, devicePixelRatio: 1,
      layout: { padding: 0 },
      scales: { x: { type:'linear', min:0, max:1, display:false }, y: { type:'linear', min:0, max:1, display:false } },
      plugins: { legend:{display:false}, tooltip:{enabled:false}, frameCells: { field, cmap, limits, border: 0.064 } }
    },
    plugins: [frameCells]
  });
}

function colorbarChart(barLeft, barTop, barW, barH, cmap, limits, ticks, decimals){
  const pad = 18;
  const c = makeCanvas(barLeft - pad, barTop, barW + 2*pad, barH + 24);
  return new Chart(c, {
    type: 'scatter',
    data: { datasets: [] },
    options: {
      responsive: false, devicePixelRatio: 1,
      layout: { padding: { left: pad, right: pad, top: 0, bottom: 0 } },
      scales: {
        x: { type:'linear', min: limits[0], max: limits[1],
             afterBuildTicks: s => { s.ticks = ticks.map(v => ({ value: v })); },
             afterFit: s => { s.height = 24; },
             grid: { drawOnChartArea:false, drawTicks:true, tickLength:4, tickColor:'#444' },
             border: { display:false },
             ticks: { font:{ size:14.5, family:FONT }, color:'#333', padding:2, maxRotation:0, autoSkip:false,
                      callback: v => Number(v).toFixed(decimals) } },
        y: { type:'linear', min:0, max:1, display:false }
      },
      plugins: { legend:{display:false}, tooltip:{enabled:false}, colorbarFill: { cmap, limits } }
    },
    plugins: [colorbarFill]
  });
}

function dynamicsChart(areaLeft, areaTop, areaW, areaH, num, series, yRange, yTicks, decimals, withYTitle){
  const axisW = withYTitle ? 66 : 44, padTop = 32, padRight = 12, axisH = 50;
  const c = makeCanvas(areaLeft - axisW, areaTop - padTop, axisW + areaW + padRight, padTop + areaH + axisH);
  const datasets = series.map((vals, k) => ({
    label: SERIES_LABELS[k],
    data: TIME.map((t, i) => ({ x: t, y: vals[i] })),
    borderColor: SERIES_COLORS[k],
    backgroundColor: SERIES_COLORS[k],
    borderWidth: k === 0 ? 2.3 : 1.4,
    borderDash: k === 0 ? [] : [4.5, 2.2],
    pointRadius: 0, tension: 0, fill: false,
    order: 4 - k
  }));
  return new Chart(c, {
    type: 'line',
    data: { datasets },
    options: {
      responsive: false, devicePixelRatio: 1,
      layout: { padding: { top: padTop, right: padRight, left: 0, bottom: 0 } },
      scales: {
        x: { type:'linear', min:0, max:60,
             afterBuildTicks: s => { s.ticks = X_TICKS.map(v => ({ value: v })); },
             afterFit: s => { s.height = axisH; },
             grid: { color:'#d5d5d5', lineWidth:1, tickLength:4, tickColor:'#333' },
             border: { color:'#333', width:1 },
             ticks: { font:{ size:14, family:FONT }, color:'#333', padding:2, maxRotation:0, autoSkip:false,
                      callback: v => String(v) },
             title: { display:true, text:'Time (min)', font:{ size:22, family:FONT }, color:'#222', padding:{ top:0, bottom:5 } } },
        y: { type:'linear', min: yRange[0], max: yRange[1],
             afterBuildTicks: s => { s.ticks = yTicks.map(v => ({ value: v })); },
             afterFit: s => { s.width = axisW; },
             grid: { color:'#d5d5d5', lineWidth:1, tickLength:4, tickColor:'#333' },
             border: { color:'#333', width:1 },
             ticks: { font:{ size:14, family:FONT }, color:'#333', padding:3, autoSkip:false,
                      callback: v => Number(v).toFixed(decimals) },
             title: { display: withYTitle, text:'Temperature (°C)', font:{ size:23, family:FONT }, color:'#222', padding:{ top:8, bottom:0 } } }
      },
      plugins: { legend:{display:false}, tooltip:{enabled:false}, dynTitle: { num } }
    },
    plugins: [plotBox, dynTitle]
  });
}

function legendBox(left, top, w, h){
  const box = document.createElement('div');
  box.className = 'legend';
  Object.assign(box.style, { left: left+'px', top: top+'px', width: w+'px', height: h+'px' });
  const rows = [11.5, 34.5, 57, 79.5, 102];
  SERIES_LABELS.forEach((lab, k) => {
    const y = rows[k];
    const svg = document.createElementNS('http://www.w3.org/2000/svg','svg');
    svg.setAttribute('width','36'); svg.setAttribute('height','6');
    svg.style.left = '6px'; svg.style.top = (y - 3) + 'px';
    const ln = document.createElementNS('http://www.w3.org/2000/svg','line');
    ln.setAttribute('x1','0'); ln.setAttribute('x2','34'); ln.setAttribute('y1','3'); ln.setAttribute('y2','3');
    ln.setAttribute('stroke', SERIES_COLORS[k]);
    ln.setAttribute('stroke-width', k === 0 ? '2.3' : '1.4');
    if (k > 0) ln.setAttribute('stroke-dasharray','4.5 2.2');
    svg.appendChild(ln); box.appendChild(svg);
    const t = document.createElement('div');
    t.className = 'lab'; t.textContent = lab;
    t.style.left = '51px'; t.style.top = y + 'px';
    box.appendChild(t);
  });
  document.body.appendChild(box);
}

function tagBox(text, left, top, w, h){
  const d = document.createElement('div');
  d.className = 'tag'; d.textContent = text;
  Object.assign(d.style, { left: left+'px', top: top+'px', width: w+'px', height: h+'px' });
  document.body.appendChild(d);
}

// ---------- assemble one panel ----------
function panel(p){
  const names = ['FOM','SHRED Unseen TC1','SHRED Unseen TC2','SHRED Unseen TC3','SHRED Unseen TC4'];
  p.fieldLefts.forEach((L, k) => {
    addText(names[k], L + 97, p.fieldTop - 20, 18);
    fieldChart(L, p.fieldTop, 194, 196, p.fields[k], twilight, TEMP_LIMITS);
  });
  p.fieldLefts.slice(1).forEach((L, k) => {
    addText('Residuals Unseen TC' + (k+1), L + 97, p.residTop - 20.5, 18);
    fieldChart(L, p.residTop, 194, 196, p.resids[k], magma, p.residLimits);
  });
  tagBox(p.tag, p.tagRect[0], p.tagRect[1], p.tagRect[2], p.tagRect[3]);
  addText('Temperature <i>T</i> (<sup>o</sup>C)', p.cbCenter, p.tempTitleY, 22.5);
  colorbarChart(p.cbLeft, p.tempBarTop, p.cbWidth, 22, twilight, TEMP_LIMITS, TEMP_TICKS, 0);
  addText('Residual', p.cbCenter, p.residTitleY, 22);
  colorbarChart(p.cbLeft, p.residBarTop, p.cbWidth, 22, magma, p.residLimits, p.residTicks, p.residDecimals);
  legendBox(p.legendRect[0], p.legendRect[1], p.legendRect[2], p.legendRect[3]);
  addText(p.letter, 60, p.letterY, 24);
  const specs = [
    [FOM_TC1, Y_RANGE_TC1, Y_TICKS_TC1, 1],
    [FOM_TC2, Y_RANGE_TC2, Y_TICKS_TC2, 1],
    [FOM_TC3, Y_RANGE_TC3, Y_TICKS_TC3, 0],
    [FOM_TC4, Y_RANGE_TC4, Y_TICKS_TC4, 0]];
  specs.forEach(([fom, yr, yt, dec], k) => {
    dynamicsChart(p.plotLefts[k], p.plotTop, 213, 216, String(k+1), [fom].concat(p.recon[k]), yr, yt, dec, k === 0);
  });
}

// (a) compressive training
panel({
  fieldTop: 36, residTop: 295,
  fieldLefts: [26, 281, 536, 791, 1046],
  fields: [FIELD_FOM, FIELD_CT_U1, FIELD_CT_U2, FIELD_CT_U3, FIELD_CT_U4],
  resids: [RESID_CT_U1, RESID_CT_U2, RESID_CT_U3, RESID_CT_U4],
  residLimits: RESID_LIMITS_CT, residTicks: RESID_TICKS_CT, residDecimals: 1,
  tag: 'Compressive Training', tagRect: [8, 248, 224, 30],
  cbLeft: 27, cbWidth: 191, cbCenter: 122.5,
  tempTitleY: 307, tempBarTop: 322, residTitleY: 428, residBarTop: 443,
  legendRect: [14, 588, 195, 117], letter: '(a)', letterY: 763,
  plotLefts: [272, 526, 782, 1036], plotTop: 544,
  recon: [
    [CT1_U1, CT1_U2, CT1_U3, CT1_U4],
    [CT2_U1, CT2_U2, CT2_U3, CT2_U4],
    [CT3_U1, CT3_U2, CT3_U3, CT3_U4],
    [CT4_U1, CT4_U2, CT4_U3, CT4_U4]]
});

// (b) full training
panel({
  fieldTop: 839, residTop: 1099,
  fieldLefts: [24, 279, 534, 789, 1044],
  fields: [FIELD_FOM, FIELD_FT_U1, FIELD_FT_U2, FIELD_FT_U3, FIELD_FT_U4],
  resids: [RESID_FT_U1, RESID_FT_U2, RESID_FT_U3, RESID_FT_U4],
  residLimits: RESID_LIMITS_FT, residTicks: RESID_TICKS_FT, residDecimals: 2,
  tag: 'Full Training', tagRect: [51, 1053, 139, 28],
  cbLeft: 24, cbWidth: 192, cbCenter: 120,
  tempTitleY: 1111, tempBarTop: 1125, residTitleY: 1231, residBarTop: 1247,
  legendRect: [11, 1392, 200, 118], letter: '(b)', letterY: 1568,
  plotLefts: [269, 525, 781, 1036], plotTop: 1349,
  recon: [
    [FT1_U1, FT1_U2, FT1_U3, FT1_U4],
    [FT2_U1, FT2_U2, FT2_U3, FT2_U4],
    [FT3_U1, FT3_U2, FT3_U3, FT3_U4],
    [FT4_U1, FT4_U2, FT4_U3, FT4_U4]]
});
</script>
</body>
</html>
